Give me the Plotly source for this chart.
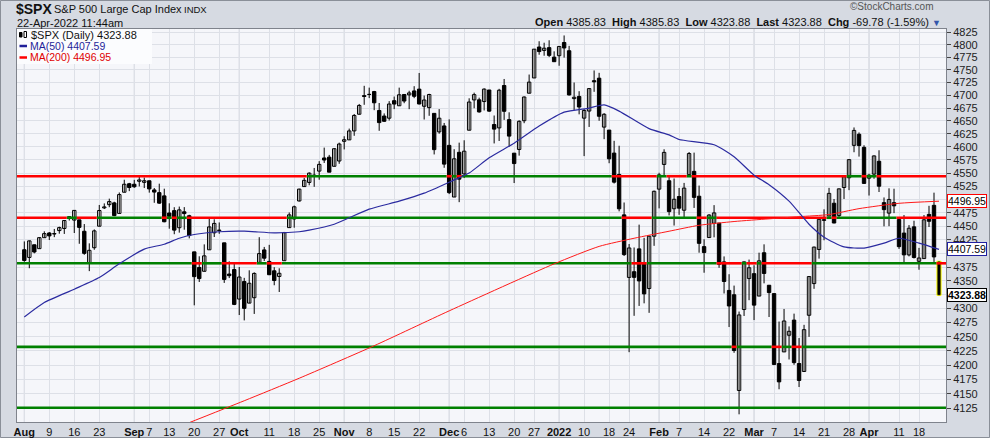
import numpy as np
import pandas as pd
import plotly.graph_objects as go

# ---------------- data ----------------
holidays = ["2021-09-06", "2021-11-25", "2021-12-24", "2022-01-17", "2022-02-21", "2022-04-15"]
dates = [d for d in pd.bdate_range("2021-08-02", "2022-04-22") if d.strftime("%Y-%m-%d") not in holidays]

opens = [
    4406.86, 4392.74, 4415.95, 4408.86, 4429.07, 4437.77, 4435.79, 4442.18, 4446.08, 4464.84, 4461.65, 4462.12, 4440.94, 4382.44, 4410.56, 4450.29, 4484.40, 4490.45, 4493.75, 4474.10, 4513.76, 4529.75,
    4528.80, 4534.48, 4532.42, 4535.38, 4518.09, 4513.02, 4506.92, 4474.81, 4479.33, 4447.49, 4477.09, 4469.74, 4402.95, 4374.45, 4367.43, 4406.75, 4438.04, 4442.12, 4419.54, 4362.41, 4370.67,
    4317.16, 4348.84, 4309.87, 4319.57, 4383.73, 4406.51, 4385.44, 4368.31, 4358.01, 4386.75, 4447.69, 4463.72, 4497.34, 4524.42, 4532.24, 4546.12, 4553.69, 4578.69, 4580.22, 4562.84, 4572.87,
    4610.62, 4613.34, 4630.65, 4662.93, 4699.26, 4701.48, 4707.25, 4670.26, 4659.39, 4655.24, 4689.30, 4679.42, 4701.50, 4700.72, 4708.44, 4712.00, 4678.48, 4675.78, 4664.63, 4628.75, 4640.25,
    4602.82, 4504.73, 4589.49, 4548.37, 4631.97, 4690.86, 4691.00, 4687.64, 4710.30, 4642.99, 4636.46, 4719.13, 4652.50, 4587.90, 4594.96, 4650.36, 4703.96, 4733.99, 4795.49, 4788.64, 4794.23, 4775.21,
    4778.14, 4804.51, 4787.99, 4693.39, 4697.66, 4655.34, 4669.14, 4728.59, 4733.56, 4637.99, 4632.24, 4588.03, 4547.35, 4471.38, 4356.32, 4366.64, 4408.43, 4380.58, 4336.19, 4431.79,
    4519.57, 4566.39, 4535.41, 4482.79, 4505.75, 4480.02, 4547.00, 4553.24, 4506.27, 4412.61, 4429.28, 4455.75, 4456.06, 4384.57, 4332.74, 4324.93, 4155.77, 4298.38, 4354.17,
    4363.14, 4322.56, 4401.31, 4342.12, 4327.01, 4202.66, 4223.10, 4252.55, 4279.50, 4202.75, 4188.82, 4288.14, 4345.11, 4407.34, 4462.40, 4469.10, 4493.10, 4469.98, 4522.66, 4541.09, 4602.86, 4624.20, 4599.02,
    4540.32, 4547.97, 4572.45, 4494.17, 4474.65, 4494.15, 4462.64, 4437.59, 4397.32, 4449.12, 4385.63, 4390.63, 4472.26, 4489.17, 4385.83,
]
highs = [
    4422.18, 4423.79, 4416.17, 4429.76, 4440.82, 4439.39, 4445.21, 4449.44, 4461.77, 4468.37, 4480.26, 4462.12, 4454.32, 4418.61, 4444.35, 4489.88, 4492.81, 4501.71, 4495.90, 4513.33, 4537.36, 4531.39,
    4537.11, 4545.85, 4541.45, 4535.38, 4521.79, 4529.90, 4520.47, 4492.99, 4485.68, 4486.87, 4485.87, 4471.52, 4402.95, 4394.87, 4416.75, 4465.40, 4463.12, 4457.30, 4419.54, 4385.57, 4382.55,
    4375.19, 4355.51, 4369.23, 4365.57, 4429.97, 4412.02, 4415.88, 4374.89, 4372.87, 4439.73, 4475.82, 4488.75, 4520.40, 4540.87, 4551.44, 4559.67, 4572.62, 4598.53, 4584.57, 4597.55, 4608.08,
    4620.34, 4635.15, 4663.46, 4683.00, 4718.50, 4714.92, 4708.53, 4684.85, 4664.55, 4688.47, 4697.42, 4714.95, 4701.50, 4708.80, 4717.75, 4743.83, 4699.39, 4702.87, 4664.63, 4672.95, 4646.02,
    4652.94, 4595.46, 4608.03, 4612.60, 4694.04, 4705.06, 4695.26, 4713.57, 4710.30, 4660.47, 4712.60, 4731.99, 4666.70, 4587.90, 4651.14, 4697.67, 4740.74, 4791.49, 4807.02, 4804.06, 4808.93, 4786.83,
    4796.64, 4818.62, 4797.70, 4725.01, 4707.95, 4673.02, 4714.13, 4748.83, 4744.13, 4665.13, 4632.24, 4611.55, 4602.11, 4494.52, 4417.35, 4411.01, 4453.23, 4428.74, 4432.72, 4516.89,
    4550.49, 4595.31, 4542.88, 4539.66, 4521.86, 4531.32, 4590.03, 4588.92, 4526.33, 4426.22, 4472.77, 4489.55, 4456.06, 4394.60, 4362.12, 4341.51, 4294.73, 4385.34, 4388.84,
    4378.45, 4401.48, 4416.78, 4342.12, 4327.01, 4276.94, 4299.40, 4268.28, 4291.01, 4247.57, 4271.05, 4357.86, 4412.67, 4465.40, 4481.75, 4522.00, 4501.07, 4520.58, 4546.03, 4575.65, 4637.30, 4627.77, 4603.07,
    4548.70, 4583.50, 4593.45, 4503.94, 4521.16, 4520.41, 4464.35, 4471.00, 4452.37, 4460.46, 4410.31, 4471.03, 4488.29, 4512.94, 4385.83,
]
lows = [
    4384.81, 4373.00, 4400.23, 4408.86, 4429.07, 4424.74, 4430.03, 4436.42, 4435.96, 4460.82, 4437.66, 4417.83, 4397.59, 4367.73, 4406.80, 4450.29, 4482.28, 4485.66, 4468.99, 4474.10, 4513.76, 4515.80,
    4522.02, 4524.66, 4521.65, 4513.00, 4493.95, 4492.07, 4457.66, 4445.70, 4435.46, 4438.37, 4443.80, 4427.76, 4305.91, 4347.96, 4367.43, 4406.75, 4430.27, 4436.19, 4346.33, 4355.08, 4306.24,
    4288.52, 4278.94, 4309.87, 4290.49, 4383.73, 4386.22, 4360.59, 4342.09, 4329.92, 4386.75, 4447.69, 4447.47, 4496.41, 4524.40, 4526.89, 4524.00, 4537.36, 4569.17, 4551.66, 4562.84, 4567.59,
    4595.06, 4613.34, 4621.19, 4662.59, 4681.32, 4694.39, 4670.87, 4630.86, 4648.31, 4650.77, 4672.86, 4679.42, 4684.41, 4672.78, 4694.22, 4682.17, 4652.66, 4659.89, 4585.43, 4625.26, 4560.00,
    4510.27, 4504.73, 4495.12, 4540.51, 4631.97, 4674.52, 4665.98, 4670.24, 4667.60, 4606.52, 4611.22, 4651.89, 4600.22, 4531.10, 4583.16, 4645.53, 4703.96, 4733.99, 4780.04, 4778.08, 4775.33, 4765.75,
    4758.17, 4774.27, 4699.44, 4671.26, 4662.74, 4582.24, 4638.27, 4706.71, 4650.29, 4614.75, 4568.70, 4530.20, 4477.95, 4395.34, 4222.62, 4287.11, 4304.80, 4309.50, 4292.46, 4414.02,
    4483.53, 4544.32, 4470.39, 4451.50, 4471.47, 4465.40, 4547.00, 4484.31, 4401.41, 4364.84, 4429.28, 4429.68, 4373.81, 4327.22, 4267.11, 4221.51, 4114.65, 4286.83, 4315.12,
    4279.54, 4322.56, 4345.56, 4284.98, 4199.85, 4157.87, 4223.10, 4209.80, 4200.49, 4161.72, 4187.90, 4249.65, 4335.65, 4390.57, 4424.30, 4469.10, 4455.81, 4465.17, 4501.07, 4517.69, 4589.66, 4581.32, 4530.41,
    4507.57, 4539.21, 4514.17, 4450.04, 4450.30, 4474.60, 4408.38, 4381.34, 4394.64, 4390.77, 4370.30, 4390.63, 4448.76, 4384.47, 4323.88,
]
closes = [
    4387.16, 4423.15, 4402.66, 4429.10, 4436.52, 4432.35, 4436.75, 4447.70, 4460.83, 4468.00, 4479.71, 4448.08, 4400.27, 4405.80, 4441.67, 4479.53, 4486.23, 4496.19, 4470.00, 4509.37, 4528.79, 4522.68,
    4524.09, 4536.95, 4535.43, 4520.03, 4514.07, 4493.28, 4458.58, 4468.73, 4443.05, 4480.70, 4473.75, 4432.99, 4357.73, 4354.19, 4395.64, 4448.98, 4455.48, 4443.11, 4352.63, 4359.46, 4307.54,
    4357.04, 4300.46, 4345.72, 4363.55, 4399.76, 4391.34, 4361.19, 4350.65, 4363.80, 4438.26, 4471.37, 4486.46, 4519.63, 4536.19, 4549.78, 4544.90, 4566.48, 4574.79, 4551.68, 4596.42, 4605.38,
    4613.67, 4630.65, 4660.57, 4680.06, 4697.53, 4701.70, 4685.25, 4646.71, 4649.27, 4682.85, 4682.80, 4700.90, 4688.67, 4704.54, 4697.96, 4682.94, 4690.70, 4701.46, 4594.62, 4655.27, 4567.00,
    4513.04, 4577.10, 4538.43, 4591.67, 4686.75, 4701.21, 4667.45, 4712.02, 4668.97, 4634.09, 4709.85, 4668.67, 4620.64, 4568.02, 4649.23, 4696.56, 4725.79, 4791.19, 4786.35, 4793.06, 4778.73, 4766.18,
    4796.56, 4793.54, 4700.58, 4696.05, 4677.03, 4670.29, 4713.07, 4726.35, 4659.03, 4662.85, 4577.11, 4532.76, 4482.73, 4397.94, 4410.13, 4356.45, 4349.93, 4326.51, 4431.85, 4515.55,
    4546.54, 4589.38, 4477.44, 4500.53, 4483.87, 4521.54, 4587.18, 4504.08, 4418.64, 4401.67, 4471.07, 4475.01, 4380.26, 4348.87, 4304.76, 4225.50, 4288.70, 4384.65, 4373.94,
    4306.26, 4386.54, 4363.49, 4328.87, 4201.09, 4170.70, 4277.88, 4259.52, 4204.31, 4173.11, 4262.45, 4357.86, 4411.67, 4463.12, 4461.18, 4511.61, 4456.24, 4520.16, 4543.06, 4575.52, 4631.60, 4602.45, 4530.41,
    4545.86, 4582.64, 4525.12, 4481.15, 4500.21, 4488.28, 4412.53, 4397.45, 4446.59, 4392.59, 4391.69, 4462.21, 4459.45, 4393.66, 4323.88,
]

ma50_dates = ["2021-08-02", "2021-08-06", "2021-08-16", "2021-08-23", "2021-08-27", "2021-09-03", "2021-09-10",
              "2021-09-15", "2021-09-20", "2021-09-27", "2021-10-04", "2021-10-12", "2021-10-19", "2021-10-21",
              "2021-10-28", "2021-11-08", "2021-11-16", "2021-11-23", "2021-12-02", "2021-12-07", "2021-12-13",
              "2021-12-20", "2021-12-28", "2022-01-04", "2022-01-11", "2022-01-14", "2022-01-20", "2022-01-28",
              "2022-02-03", "2022-02-07", "2022-02-16", "2022-02-23", "2022-03-01", "2022-03-04", "2022-03-10",
              "2022-03-16", "2022-03-21", "2022-03-25", "2022-03-31", "2022-04-06", "2022-04-11", "2022-04-18",
              "2022-04-22"]
ma50_values = [4285, 4311, 4335, 4356, 4381, 4408, 4417, 4428, 4435, 4440, 4441, 4438, 4440, 4443,
               4454, 4482, 4497, 4512, 4537, 4550, 4579, 4607, 4640, 4667, 4675, 4681, 4669, 4635,
               4623, 4614, 4604, 4581, 4546, 4528, 4497, 4454, 4430, 4412, 4410, 4419, 4428, 4419, 4407.59]

ma200_dates = ["2021-09-16", "2021-10-04", "2021-10-19", "2021-11-09", "2021-12-01", "2021-12-31", "2022-01-13",
               "2022-01-25", "2022-02-03", "2022-02-11", "2022-02-23", "2022-03-04", "2022-03-14", "2022-03-22",
               "2022-03-30", "2022-04-11", "2022-04-22"]
ma200_values = [4097, 4138, 4177, 4234, 4296, 4381, 4413, 4428, 4441, 4452, 4459, 4464, 4468, 4472,
                4483, 4493, 4496.95]

levels = [4544, 4466, 4382, 4232, 4126]

tick_dates = ["2021-08-02", "2021-08-09", "2021-08-16", "2021-08-23", "2021-09-01", "2021-09-07", "2021-09-13",
              "2021-09-20", "2021-09-27", "2021-10-01", "2021-10-11", "2021-10-18", "2021-10-25", "2021-11-01",
              "2021-11-08", "2021-11-15", "2021-11-22", "2021-12-01", "2021-12-06", "2021-12-13", "2021-12-20",
              "2021-12-27", "2022-01-03", "2022-01-10", "2022-01-18", "2022-01-24", "2022-02-01", "2022-02-07",
              "2022-02-14", "2022-02-22", "2022-03-01", "2022-03-07", "2022-03-14", "2022-03-21", "2022-03-28",
              "2022-04-01", "2022-04-11", "2022-04-18"]
tick_labels = ["Aug", "9", "16", "23", "Sep", "7", "13", "20", "27", "Oct", "11", "18", "25", "Nov", "8", "15", "22",
               "Dec", "6", "13", "20", "27", "2022", "10", "18", "24", "Feb", "7", "14", "22", "Mar", "7", "14", "21",
               "28", "Apr", "11", "18"]
month_labels = {"Aug", "Sep", "Oct", "Nov", "Dec", "2022", "Feb", "Mar", "Apr"}

price_ticks = list(range(4125, 4826, 25))
hidden_price_labels = {4325, 4400, 4500}   # covered by the value boxes in the original

# ---------------- helpers ----------------
date_str = [d.strftime("%Y-%m-%d") for d in dates]
pos = {s: i for i, s in enumerate(date_str)}
n = len(closes)
xs = list(range(n))

W, H = 990, 438
PL, PR, PT, PB = 17, 946, 29, 422      # plot area in pixels
X_LO, X_HI = -1.46, 184.4
Y_LO, Y_HI = 4101.5, 4831.6


def fx(px):
    return (px - PL) / (PR - PL)


def fy(py):
    return (PB - py) / (PB - PT)


FONT = "Liberation Sans, Arial, sans-serif"

fig = go.Figure()

# wicks
wx, wy = [], []
for i in range(n):
    wx += [i, i, None]
    wy += [lows[i], highs[i], None]
fig.add_trace(go.Scatter(x=wx, y=wy, mode="lines", line=dict(color="black", width=1),
                         hoverinfo="skip", showlegend=False))

# bodies
up = [i for i in range(n - 1) if closes[i] >= opens[i]]
dn = [i for i in range(n - 1) if closes[i] < opens[i]]
BW = 0.68
fig.add_trace(go.Bar(x=up, base=[opens[i] for i in up], y=[max(closes[i] - opens[i], 0.3) for i in up],
                     width=BW, marker=dict(color="white", line=dict(color="black", width=1)),
                     hoverinfo="skip", showlegend=False))
fig.add_trace(go.Bar(x=dn, base=[closes[i] for i in dn], y=[opens[i] - closes[i] for i in dn],
                     width=BW, marker=dict(color="black", line=dict(color="black", width=1)),
                     hoverinfo="skip", showlegend=False))
# last (live) candle with yellow outline
last = n - 1
fig.add_trace(go.Bar(x=[last], base=[min(opens[last], closes[last])], y=[abs(opens[last] - closes[last])],
                     width=BW + 0.15, marker=dict(color="black", line=dict(color="#FFFF00", width=1)),
                     hoverinfo="skip", showlegend=False))

# support / resistance lines coloured by close vs level (runs of equal colour)
for lvl in levels:
    runs = []
    for i, c in enumerate(closes):
        col = "#FF0000" if c < lvl else "#008000"
        a = X_LO if i == 0 else i - 0.5
        b = X_HI if i == n - 1 else i + 0.5
        if runs and runs[-1][0] == col:
            runs[-1][2] = b
        else:
            runs.append([col, a, b])
    for col in ("#008000", "#FF0000"):
        lx, ly = [], []
        for c, a, b in runs:
            if c == col:
                lx += [a, b, None]
                ly += [lvl, lvl, None]
        if lx:
            fig.add_trace(go.Scatter(x=lx, y=ly, mode="lines", line=dict(color=col, width=2.6),
                                     hoverinfo="skip", showlegend=False))

# moving averages
fig.add_trace(go.Scatter(x=[pos[d] for d in ma200_dates], y=ma200_values, mode="lines",
                         line=dict(color="#FF1A1A", width=1, shape="spline", smoothing=0.6),
                         hoverinfo="skip", showlegend=False))
fig.add_trace(go.Scatter(x=[pos[d] for d in ma50_dates], y=ma50_values, mode="lines",
                         line=dict(color="#2B2BA0", width=1.2, shape="spline", smoothing=0.6),
                         hoverinfo="skip", showlegend=False))

tickvals = [pos[d] for d in tick_dates]
ticktext = [f"<b>{t}</b>" if t in month_labels else t for t in tick_labels]

shapes = []
# darker month gridlines
for d, t in zip(tick_dates, tick_labels):
    if t in month_labels:
        shapes.append(dict(type="line", xref="x", yref="paper", x0=pos[d], x1=pos[d], y0=0, y1=1,
                           line=dict(color="#C9CDD6", width=1), layer="below"))
# legend box
shapes.append(dict(type="rect", xref="paper", yref="paper", x0=fx(17), x1=fx(152), y0=fy(64), y1=fy(29),
                   fillcolor="#FBFCFE", line=dict(width=0), layer="above"))
shapes.append(dict(type="line", xref="paper", yref="paper", x0=fx(19.5), x1=fx(27), y0=fy(46), y1=fy(46),
                   line=dict(color="#1F1F99", width=2.5)))
shapes.append(dict(type="line", xref="paper", yref="paper", x0=fx(19.5), x1=fx(27), y0=fy(57.5), y1=fy(57.5),
                   line=dict(color="#FF0000", width=2.5)))
shapes.append(dict(type="rect", xref="paper", yref="paper", x0=fx(19.5), x1=fx(22), y0=fy(37), y1=fy(32.5),
                   fillcolor="black", line=dict(color="black", width=1)))
shapes.append(dict(type="rect", xref="paper", yref="paper", x0=fx(24), x1=fx(26.5), y0=fy(37.5), y1=fy(31.5),
                   fillcolor="white", line=dict(color="black", width=1)))
# outer frame
shapes.append(dict(type="rect", xref="paper", yref="paper", x0=fx(0.5), x1=fx(989.5), y0=fy(437.5), y1=fy(0.5),
                   line=dict(color="#8A8F98", width=1), layer="below"))

ann = []


def add_text(text, px, py, size, color="#111111", anchor="left", bold=False):
    ann.append(dict(text=f"<b>{text}</b>" if bold else text, x=fx(px), y=fy(py), xref="paper", yref="paper",
                    xanchor=anchor, yanchor="middle", showarrow=False, borderpad=0,
                    font=dict(size=size, color=color, family=FONT)))


add_text("$SPX", 15, 9, 14, bold=True)
add_text("S&amp;P 500 Large Cap Index", 53, 9.5, 11)
add_text("INDX", 183, 10, 9.5)
add_text("22-Apr-2022 11:44am", 16, 23, 11)
add_text("©StockCharts.com", 935, 6.5, 10, color="#555555", anchor="right")
add_text("<b>Open</b> 4385.83  <b>High</b> 4385.83  <b>Low</b> 4323.88  <b>Last</b> 4323.88  <b>Chg</b> -69.78 (-1.59%)",
         930, 22.5, 11, anchor="right")
add_text("▼", 931, 23, 9, color="#3355AA")
add_text("$SPX (Daily) 4323.88", 30, 34.5, 11)
add_text("MA(50) 4407.59", 29, 46, 10.5, color="#1F1F99")
add_text("MA(200) 4496.95", 29, 57.5, 10.5, color="#E00000")

for val, bc, bold in ((4496.95, "#FF0000", False), (4407.59, "#2020A0", False), (4323.88, "#000000", True)):
    ann.append(dict(text=f"<b>{val:.2f}</b>" if bold else f"{val:.2f}", x=1, xref="paper", xanchor="left",
                    xshift=1, y=np.log10(val), yref="y", yanchor="middle", showarrow=False,
                    bgcolor="white", bordercolor=bc, borderwidth=1, borderpad=0,
                    font=dict(size=10.5, color="black", family=FONT)))

fig.update_layout(
    width=W, height=H,
    margin=dict(l=PL, r=W - PR, t=PT, b=H - PB, autoexpand=False),
    paper_bgcolor="#D6DAE2", plot_bgcolor="#F5F6FA",
    font=dict(family=FONT, size=11, color="#111111"),
    showlegend=False, barmode="overlay",
    shapes=shapes, annotations=ann,
    xaxis=dict(range=[X_LO, X_HI], tickmode="array", tickvals=tickvals, ticktext=ticktext,
               tickangle=0, automargin=False,
               showgrid=True, gridcolor="#DDE0E7", gridwidth=1, zeroline=False,
               showline=True, mirror=True, linecolor="#7F838C", linewidth=1,
               ticks="", tickfont=dict(size=11, color="#111111")),
    yaxis=dict(type="log", range=[np.log10(Y_LO), np.log10(Y_HI)], side="right", automargin=False,
               tickmode="array", tickvals=price_ticks,
               ticktext=["" if v in hidden_price_labels else str(v) for v in price_ticks],
               showgrid=True, gridcolor="#DDE0E7", gridwidth=1, zeroline=False,
               showline=True, mirror=True, linecolor="#7F838C", linewidth=1,
               ticks="outside", ticklen=4, tickcolor="#444444",
               tickfont=dict(size=11, color="#222222")),
)

fig.write_html("out.html", config={"displayModeBar": False},
               post_script="document.body.style.margin='0px';document.body.style.overflow='hidden';")
